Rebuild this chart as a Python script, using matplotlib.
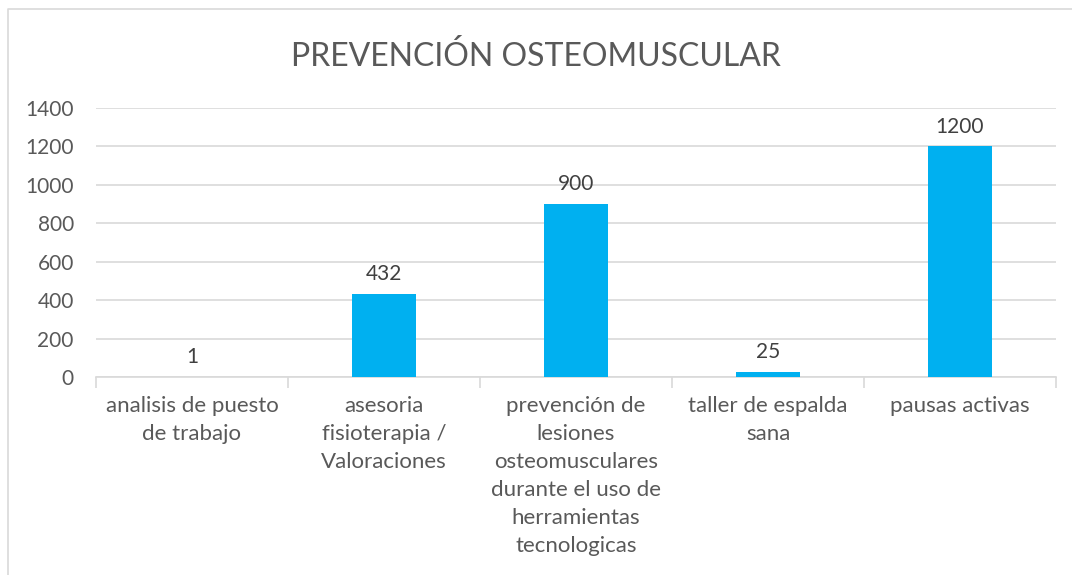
import matplotlib.pyplot as plt
from matplotlib.lines import Line2D
import numpy as np

plt.rcParams['font.family'] = ['Lato', 'DejaVu Sans']

categories = ['analisis de puesto\nde trabajo',
              'asesoria\nfisioterapia /\nValoraciones',
              'prevención de\nlesiones\nosteomusculares\ndurante el uso de\nherramientas\ntecnologicas',
              'taller de espalda\nsana',
              'pausas activas']
values = [1, 432, 900, 25, 1200]
y_ticks = [0, 200, 400, 600, 800, 1000, 1200, 1400]
title = 'PREVENCIÓN OSTEOMUSCULAR'

text_color = '#595959'
grid_color = '#D9D9D9'
bar_color = '#00B0F0'

W, H = 1072, 575
fig = plt.figure(figsize=(W / 100, H / 100), dpi=100)
ax = fig.add_axes([96 / W, 1 - 377 / H, (1056 - 96) / W, (377 - 108) / H])

x = np.arange(len(values))
ax.bar(x, values, width=1 / 3, color=bar_color, zorder=3)

for xi, v in zip(x, values):
    ax.annotate(str(v), (xi, v), xytext=(0, 7), textcoords='offset points',
                ha='center', va='bottom', fontsize=15, color='#404040')

ax.set_xlim(-0.5, len(values) - 0.5)
ax.set_ylim(0, 1400)
ax.set_yticks(y_ticks)
ax.set_yticklabels([str(t) for t in y_ticks], fontsize=15, color=text_color)
ax.yaxis.grid(True, color=grid_color, linewidth=1.2, zorder=0)
ax.tick_params(axis='y', length=0, pad=16)

ax.set_xticks(x)
ax.set_xticklabels(categories, fontsize=16, color=text_color, linespacing=1.5, va='top')
ax.set_xticks(np.arange(len(values) + 1) - 0.5, minor=True)
ax.tick_params(axis='x', which='major', length=0, pad=14)
ax.tick_params(axis='x', which='minor', length=8, color=grid_color, width=1.2)

for side in ['top', 'right', 'left']:
    ax.spines[side].set_visible(False)
ax.spines['bottom'].set_color(grid_color)
ax.spines['bottom'].set_linewidth(1.2)

fig.text(0.5, 1 - 57 / H, title, ha='center', va='center', fontsize=23, color=text_color)

# chart frame (only left and top edges visible in the crop)
fx = 8 / W
fy = 1 - 9 / H
fig.add_artist(Line2D([fx, fx, 1], [0, fy, fy], transform=fig.transFigure,
                      color=grid_color, linewidth=1.2))

fig.savefig('out.png', dpi=100)
